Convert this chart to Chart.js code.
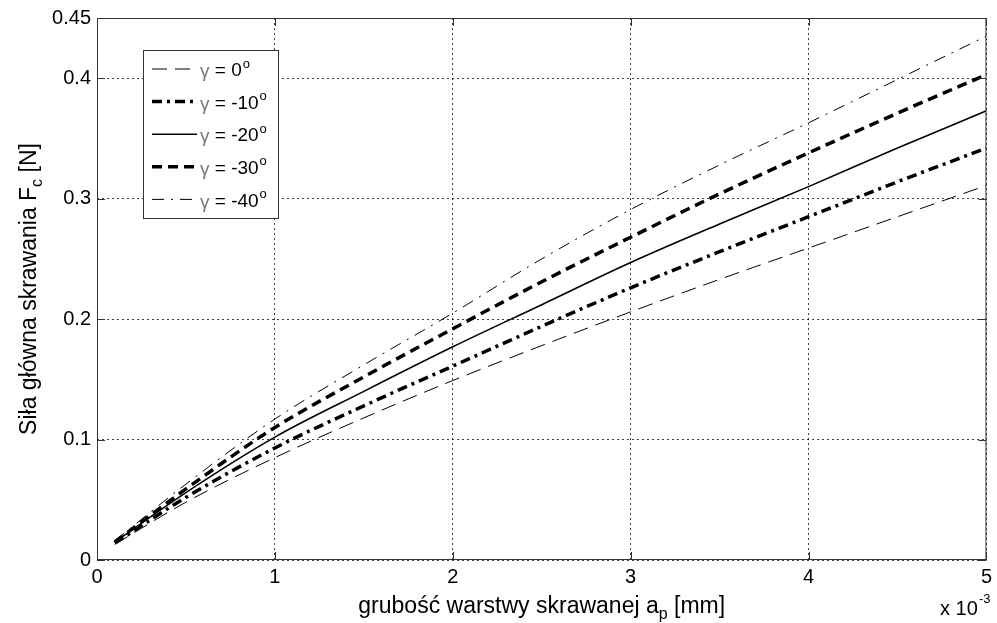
<!DOCTYPE html>
<html>
<head>
<meta charset="utf-8">
<script src="https://cdn.jsdelivr.net/npm/chart.js@4.4.0/dist/chart.umd.min.js"></script>
<style>
  html, body { margin: 0; padding: 0; background: #fff; }
  #wrap { width: 997px; height: 623px; }
</style>
</head>
<body>
<div id="wrap"><canvas id="myChart" width="997" height="623"></canvas></div>
<script>
"use strict";
// thickness of cut layer, x 10^-3 mm
const xValues = [0.1, 0.5, 1, 1.5, 2, 2.5, 3, 3.5, 4, 4.5, 5];
// main cutting force Fc [N] for each rake angle
const gamma0 = [0.013, 0.048, 0.085, 0.118, 0.149, 0.178, 0.206, 0.233, 0.259, 0.285, 0.311];
const gamma10 = [0.014, 0.052, 0.093, 0.128, 0.161, 0.194, 0.226, 0.256, 0.285, 0.314, 0.342];
const gamma20 = [0.015, 0.056, 0.102, 0.140, 0.177, 0.212, 0.247, 0.279, 0.310, 0.342, 0.373];
const gamma30 = [0.015, 0.059, 0.110, 0.152, 0.192, 0.231, 0.268, 0.304, 0.338, 0.371, 0.403];
const gamma40 = [0.016, 0.063, 0.117, 0.162, 0.205, 0.250, 0.291, 0.328, 0.363, 0.399, 0.435];
const legendNames = ["0", "-10", "-20", "-30", "-40"];
const xTicks = [0, 1, 2, 3, 4, 5];
const yTicks = [0, 0.1, 0.2, 0.3, 0.4, 0.45];

const FONT = "'Liberation Sans', Arial, sans-serif";

function points(ys) {
  return xValues.map((x, i) => ({ x: x, y: ys[i] }));
}

// frame, inward ticks, labels with subscripts and the legend box
const extras = {
  id: "extras",
  afterDraw(chart) {
    const ctx = chart.ctx;
    const a = chart.chartArea;
    const xs = chart.scales.x;
    const ys = chart.scales.y;
    ctx.save();
    // frame
    ctx.strokeStyle = "#333";
    ctx.lineWidth = 1;
    ctx.setLineDash([]);
    ctx.strokeRect(a.left + 0.5, a.top + 0.5, a.right - a.left - 1, a.bottom - a.top - 1);
    // inward ticks
    ctx.beginPath();
    xTicks.forEach(v => {
      const px = Math.round(xs.getPixelForValue(v)) + 0.5;
      ctx.moveTo(px, a.bottom); ctx.lineTo(px, a.bottom - 8);
      ctx.moveTo(px, a.top); ctx.lineTo(px, a.top + 8);
    });
    yTicks.forEach(v => {
      const py = Math.round(ys.getPixelForValue(v)) + 0.5;
      ctx.moveTo(a.left, py); ctx.lineTo(a.left + 8, py);
      ctx.moveTo(a.right, py); ctx.lineTo(a.right - 8, py);
    });
    ctx.stroke();

    ctx.fillStyle = "#000";
    ctx.textBaseline = "alphabetic";
    ctx.textAlign = "left";
    // x axis label, centred under the plot
    const big = "23px " + FONT, sub = "16px " + FONT;
    const t1 = "grubość warstwy skrawanej a", t1b = " [mm]";
    ctx.font = sub;
    const wp = ctx.measureText("p").width;
    ctx.font = big;
    const w1 = ctx.measureText(t1).width, w1b = ctx.measureText(t1b).width;
    let x0 = (a.left + a.right) / 2 - (w1 + wp + w1b) / 2;
    ctx.fillText(t1, x0, 613);
    x0 += w1;
    ctx.font = sub;
    ctx.fillText("p", x0, 619);
    x0 += wp;
    ctx.font = big;
    ctx.fillText(t1b, x0, 613);

    // exponent
    ctx.font = "20px " + FONT;
    ctx.fillText("x 10", 940, 615);
    ctx.font = "13px " + FONT;
    ctx.fillText("-3", 979, 603);

    // y axis label (rotated)
    ctx.save();
    ctx.translate(36, (a.top + a.bottom) / 2);
    ctx.rotate(-Math.PI / 2);
    const t2 = "Siła główna skrawania F", t3 = " [N]";
    ctx.font = sub;
    const wc = ctx.measureText("c").width;
    ctx.font = big;
    const w2 = ctx.measureText(t2).width, w3 = ctx.measureText(t3).width;
    let lx = -(w2 + wc + w3) / 2;
    ctx.fillText(t2, lx, 0);
    lx += w2;
    ctx.font = sub;
    ctx.fillText("c", lx, 6);
    lx += wc;
    ctx.font = big;
    ctx.fillText(t3, lx, 0);
    ctx.restore();

    // legend
    const bx = 143, by = 50, bw = 135, bh = 168;
    ctx.fillStyle = "#fff";
    ctx.fillRect(bx, by, bw, bh);
    ctx.strokeStyle = "#333";
    ctx.lineWidth = 1;
    ctx.strokeRect(bx + 0.5, by + 0.5, bw, bh);
    chart.data.datasets.forEach((ds, i) => {
      const ry = 69 + i * 32.6;
      ctx.beginPath();
      ctx.strokeStyle = ds.borderColor;
      ctx.lineWidth = ds.borderWidth;
      ctx.setLineDash(ds.borderDash || []);
      ctx.moveTo(152, ry); ctx.lineTo(197, ry);
      ctx.stroke();
      ctx.setLineDash([]);
      ctx.textBaseline = "middle";
      ctx.font = "19px " + FONT;
      ctx.fillStyle = "#7a7a7a";
      ctx.fillText("γ", 200, ry + 3);
      let tx = 200 + ctx.measureText("γ").width;
      ctx.fillStyle = "#000";
      const s = " = " + legendNames[i];
      ctx.fillText(s, tx, ry + 2);
      tx += ctx.measureText(s).width;
      ctx.font = "13px " + FONT;
      ctx.fillText("o", tx + 1, ry - 5);
    });
    ctx.restore();
  }
};

const gridOpts = { color: "rgba(0,0,0,0.75)", drawTicks: false, lineWidth: 1 };

const myChart = new Chart(document.querySelector("#myChart"), {
  type: "line",
  data: {
    datasets: [
      { label: "γ = 0", data: points(gamma0), borderColor: "#000", borderWidth: 1, borderDash: [15, 8] },
      { label: "γ = -10", data: points(gamma10), borderColor: "#000", borderWidth: 3.5, borderDash: [10, 5, 3, 5] },
      { label: "γ = -20", data: points(gamma20), borderColor: "#000", borderWidth: 1.6 },
      { label: "γ = -30", data: points(gamma30), borderColor: "#000", borderWidth: 3.5, borderDash: [10, 6] },
      { label: "γ = -40", data: points(gamma40), borderColor: "#000", borderWidth: 1, borderDash: [12, 7, 2, 7] }
    ]
  },
  options: {
    responsive: false,
    animation: false,
    devicePixelRatio: 1,
    layout: { padding: { top: 17, right: 5, left: 0, bottom: 0 } },
    elements: { point: { radius: 0 }, line: { tension: 0.3, cubicInterpolationMode: "monotone" } },
    plugins: { legend: { display: false }, tooltip: { enabled: false } },
    scales: {
      x: {
        type: "linear",
        min: 0,
        max: 5,
        afterBuildTicks: s => { s.ticks = xTicks.map(v => ({ value: v })); },
        afterFit: s => { s.height = 63; },
        border: { display: false, dash: [2, 3] },
        grid: gridOpts,
        ticks: { color: "#000", font: { family: FONT, size: 20 }, padding: 5, maxRotation: 0 }
      },
      y: {
        min: 0,
        max: 0.45,
        afterBuildTicks: s => { s.ticks = yTicks.map(v => ({ value: v })); },
        afterFit: s => { s.width = 97; },
        border: { display: false, dash: [2, 3] },
        grid: gridOpts,
        ticks: { color: "#000", font: { family: FONT, size: 20 }, padding: 6, callback: v => String(v) }
      }
    }
  },
  plugins: [extras]
});
</script>
</body>
</html>
